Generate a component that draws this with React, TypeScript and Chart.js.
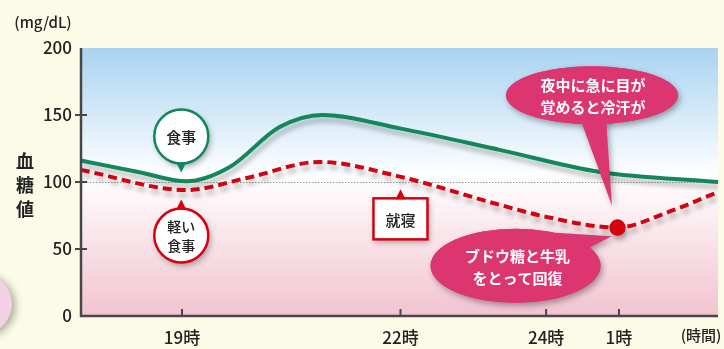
import React, { useEffect, useRef } from "react";
import { Chart, registerables } from "chart.js";

Chart.register(...registerables);

// ---- data ----
const xMin = 17.613;
const xMax = 26.36;
const xTickValues = [19, 22, 24, 25];
const xTickLabels = ["19時", "22時", "24時", "1時"];
const yTickValues = [0, 50, 100, 150, 200];

const normalHours = [17.61, 18.4, 19.06, 19.65, 20.34, 20.93, 21.99, 23.36, 24.74, 26.36];
const normalValues = [116, 107.5, 100.5, 111, 141, 150, 140, 124, 107.5, 100];

const lightHours = [17.61, 19.06, 19.89, 20.89, 21.99, 23.36, 24.0, 24.98, 25.65, 26.36];
const lightValues = [109, 94, 103, 115, 104, 83, 74, 66, 77, 92.5];
const markedHour = 24.98;

const FONT = '"Noto Sans CJK JP", "Noto Sans", sans-serif';
const GREEN = "#12885a";
const RED = "#d7000f";
const PINK = "#dc3671";

const overlay = {
  id: "overlay",
  beforeDraw(chart: any) {
    const { ctx, chartArea: a, scales } = chart;
    const y = scales.y;
    ctx.save();
    ctx.fillStyle = "#fcfbe8";
    ctx.fillRect(0, 0, chart.width, chart.height);
    // decorative circle
    ctx.save();
    ctx.shadowColor = "rgba(60,60,30,0.45)";
    ctx.shadowBlur = 8;
    ctx.shadowOffsetX = 3;
    ctx.shadowOffsetY = 2;
    ctx.fillStyle = "#f3d0e4";
    ctx.beginPath();
    ctx.arc(-18, 304, 30, 0, Math.PI * 2);
    ctx.fill();
    ctx.restore();
    // plot background gradient
    const g = ctx.createLinearGradient(0, y.getPixelForValue(200), 0, y.getPixelForValue(0));
    g.addColorStop(0, "#a9d3f1");
    g.addColorStop(0.47, "#fdfeff");
    g.addColorStop(0.52, "#fefafb");
    g.addColorStop(1, "#f2c3cf");
    ctx.fillStyle = g;
    ctx.fillRect(a.left, a.top, a.right - a.left, a.bottom - a.top);
    // dotted reference line at 100
    const y100 = y.getPixelForValue(100);
    ctx.strokeStyle = "#9a9a9a";
    ctx.lineWidth = 1;
    ctx.setLineDash([1.5, 1.5]);
    ctx.beginPath();
    ctx.moveTo(a.left, y100 + 0.5);
    ctx.lineTo(a.right, y100 + 0.5);
    ctx.stroke();
    ctx.restore();
  },
  beforeDatasetDraw(chart: any) {
    const ctx = chart.ctx;
    ctx.save();
    ctx.shadowColor = "rgba(0,0,0,0.28)";
    ctx.shadowBlur = 5;
    ctx.shadowOffsetX = 2;
    ctx.shadowOffsetY = 5;
  },
  afterDatasetDraw(chart: any) {
    chart.ctx.restore();
  },
  afterDraw(chart: any) {
    const { ctx, chartArea: a, scales } = chart;
    const x = scales.x;
    const y = scales.y;
    const px = (h: number) => x.getPixelForValue(h);
    const py = (v: number) => y.getPixelForValue(v);
    ctx.save();

    // axes
    ctx.strokeStyle = "#474747";
    ctx.lineWidth = 2.5;
    ctx.beginPath();
    ctx.moveTo(a.left, a.top);
    ctx.lineTo(a.left, a.bottom);
    ctx.lineTo(a.right, a.bottom);
    ctx.stroke();
    ctx.lineWidth = 2;
    for (const v of [50, 100, 150]) {
      ctx.beginPath();
      ctx.moveTo(a.left - 6, py(v));
      ctx.lineTo(a.left + 6, py(v));
      ctx.stroke();
    }
    for (const h of xTickValues) {
      ctx.beginPath();
      ctx.moveTo(px(h), a.bottom - 7);
      ctx.lineTo(px(h), a.bottom);
      ctx.stroke();
    }

    // axis titles
    ctx.fillStyle = "#222";
    ctx.textAlign = "center";
    ctx.textBaseline = "middle";
    ctx.font = `500 15px ${FONT}`;
    ctx.fillText("(mg/dL)", 43, 22);
    ctx.fillText("(時間)", 701, 335);
    ctx.font = `bold 18px ${FONT}`;
    ["血", "糖", "値"].forEach((c, i) => ctx.fillText(c, 25, 161 + i * 24));

    const shadowOn = () => {
      ctx.shadowColor = "rgba(0,0,0,0.35)";
      ctx.shadowBlur = 6;
      ctx.shadowOffsetX = 2;
      ctx.shadowOffsetY = 3;
    };

    // callout: 食事 (green circle, pointer down)
    {
      const cx = px(18.99), cy = py(134), r = 27;
      ctx.save();
      shadowOn();
      ctx.fillStyle = "#fff";
      ctx.beginPath();
      ctx.arc(cx, cy, r, 0, Math.PI * 2);
      ctx.fill();
      ctx.restore();
      ctx.strokeStyle = GREEN;
      ctx.lineWidth = 2.5;
      ctx.beginPath();
      ctx.arc(cx, cy, r, 0, Math.PI * 2);
      ctx.stroke();
      ctx.fillStyle = GREEN;
      ctx.beginPath();
      ctx.moveTo(cx - 5, cy + r - 1);
      ctx.lineTo(cx + 5, cy + r - 1);
      ctx.lineTo(cx, cy + r + 9);
      ctx.closePath();
      ctx.fill();
      ctx.fillStyle = "#222";
      ctx.font = `500 15px ${FONT}`;
      ctx.fillText("食事", cx, cy + 1);
    }
    // callout: 軽い食事 (red circle, pointer up)
    {
      const cx = px(18.99), cy = py(60), r = 27;
      ctx.save();
      shadowOn();
      ctx.fillStyle = "#fff";
      ctx.beginPath();
      ctx.arc(cx, cy, r, 0, Math.PI * 2);
      ctx.fill();
      ctx.restore();
      ctx.strokeStyle = RED;
      ctx.lineWidth = 2.5;
      ctx.beginPath();
      ctx.arc(cx, cy, r, 0, Math.PI * 2);
      ctx.stroke();
      ctx.fillStyle = RED;
      ctx.beginPath();
      ctx.moveTo(cx - 5, cy - r + 1);
      ctx.lineTo(cx + 5, cy - r + 1);
      ctx.lineTo(cx, cy - r - 9);
      ctx.closePath();
      ctx.fill();
      ctx.fillStyle = "#222";
      ctx.font = `500 14px ${FONT}`;
      ctx.fillText("軽い", cx, cy - 9);
      ctx.fillText("食事", cx, cy + 10);
    }
    // callout: 就寝 (rect, pointer up)
    {
      const cx = px(22), cy = py(72.5), w = 54, h = 41;
      ctx.save();
      shadowOn();
      ctx.fillStyle = "#fff";
      ctx.fillRect(cx - w / 2, cy - h / 2, w, h);
      ctx.restore();
      ctx.strokeStyle = RED;
      ctx.lineWidth = 2.5;
      ctx.strokeRect(cx - w / 2, cy - h / 2, w, h);
      ctx.fillStyle = RED;
      ctx.beginPath();
      ctx.moveTo(cx - 5, cy - h / 2 + 1);
      ctx.lineTo(cx + 5, cy - h / 2 + 1);
      ctx.lineTo(cx, cy - h / 2 - 9);
      ctx.closePath();
      ctx.fill();
      ctx.fillStyle = "#222";
      ctx.font = `500 15px ${FONT}`;
      ctx.fillText("就寝", cx, cy + 1);
    }
    // callout: 夜中に急に目が覚めると冷汗が (pink ellipse, tail down)
    {
      const cx = px(24.63), cy = py(164.7), rx = 86, ry = 29;
      const tipX = px(25.0) - 7, tipY = py(82.5);
      ctx.save();
      shadowOn();
      ctx.fillStyle = PINK;
      ctx.beginPath();
      ctx.ellipse(cx, cy, rx, ry, 0, 0, Math.PI * 2);
      ctx.fill();
      ctx.beginPath();
      ctx.moveTo(cx - 12, cy + ry - 6);
      ctx.lineTo(tipX, tipY);
      ctx.lineTo(cx + 14, cy + ry - 6);
      ctx.closePath();
      ctx.fill();
      ctx.restore();
      ctx.fillStyle = PINK;
      ctx.beginPath();
      ctx.ellipse(cx, cy, rx, ry, 0, 0, Math.PI * 2);
      ctx.fill();
      ctx.fillStyle = "#fff";
      ctx.font = `bold 15px ${FONT}`;
      ctx.fillText("夜中に急に目が", cx + 1, cy - 10);
      ctx.fillText("覚めると冷汗が", cx + 1, cy + 12);
    }
    // callout: ブドウ糖と牛乳をとって回復 (pink ellipse, tail up-right)
    {
      const cx = px(23.58), cy = py(37.5), rx = 85, ry = 37;
      const tipX = px(24.9), tipY = py(59.5);
      ctx.save();
      shadowOn();
      ctx.fillStyle = PINK;
      ctx.beginPath();
      ctx.ellipse(cx, cy, rx, ry, 0, 0, Math.PI * 2);
      ctx.fill();
      ctx.beginPath();
      ctx.moveTo(cx + 40, cy - ry + 4);
      ctx.lineTo(tipX, tipY);
      ctx.lineTo(cx + 66, cy - 14);
      ctx.closePath();
      ctx.fill();
      ctx.restore();
      ctx.fillStyle = PINK;
      ctx.beginPath();
      ctx.ellipse(cx, cy, rx, ry, 0, 0, Math.PI * 2);
      ctx.fill();
      ctx.fillStyle = "#fff";
      ctx.font = `bold 15px ${FONT}`;
      ctx.fillText("ブドウ糖と牛乳", cx + 2, cy - 9);
      ctx.fillText("をとって回復", cx + 2, cy + 13);
    }

    // marker point redrawn on top
    const meta = chart.getDatasetMeta(1);
    const idx = lightHours.indexOf(markedHour);
    const pt = meta.data[idx];
    if (pt) {
      ctx.fillStyle = RED;
      ctx.beginPath();
      ctx.arc(pt.x, pt.y, 8, 0, Math.PI * 2);
      ctx.fill();
    }
    ctx.restore();
  },
};

export default function App() {
  const ref = useRef<HTMLCanvasElement>(null);
  useEffect(() => {
    const chart = new Chart(ref.current as HTMLCanvasElement, {
      type: "line",
      data: {
        datasets: [
          {
            label: "食事",
            data: normalHours.map((h, i) => ({ x: h, y: normalValues[i] })),
            borderColor: GREEN,
            borderWidth: 4,
            pointRadius: 0,
            cubicInterpolationMode: "monotone",
            fill: false,
          },
          {
            label: "軽い食事",
            data: lightHours.map((h, i) => ({ x: h, y: lightValues[i] })),
            borderColor: RED,
            borderWidth: 4,
            borderDash: [9, 5],
            pointRadius: lightHours.map((h) => (h === markedHour ? 8 : 0)),
            pointBackgroundColor: RED,
            pointBorderWidth: 0,
            cubicInterpolationMode: "monotone",
            fill: false,
          },
        ],
      },
      options: {
        animation: false,
        responsive: false,
        events: [],
        layout: { padding: { left: 0, right: 6, top: 48, bottom: 0 } },
        plugins: { legend: { display: false }, tooltip: { enabled: false } },
        scales: {
          x: {
            type: "linear",
            min: xMin,
            max: xMax,
            afterBuildTicks: (s: any) => {
              s.ticks = xTickValues.map((v) => ({ value: v }));
            },
            afterFit: (s: any) => {
              s.height = 33;
            },
            grid: { display: false, drawTicks: false },
            border: { display: false },
            ticks: {
              autoSkip: false,
              maxRotation: 0,
              padding: 11,
              color: "#222",
              font: { family: FONT, size: 17, weight: "500" },
              callback: (v: any) => {
                const i = xTickValues.indexOf(Number(v));
                return i >= 0 ? xTickLabels[i] : "";
              },
            },
          },
          y: {
            min: 0,
            max: 200,
            afterBuildTicks: (s: any) => {
              s.ticks = yTickValues.map((v) => ({ value: v }));
            },
            afterFit: (s: any) => {
              s.width = 81;
            },
            grid: { display: false, drawTicks: false },
            border: { display: false },
            ticks: {
              padding: 9,
              color: "#222",
              font: { family: FONT, size: 17, weight: "500" },
            },
          },
        },
      },
      plugins: [overlay],
    } as any);
    return () => chart.destroy();
  }, []);
  return (
    <div style={{ position: "absolute", left: 0, top: 0, width: 724, height: 349, background: "#fcfbe8" }}>
      <canvas ref={ref} width={724} height={349} />
    </div>
  );
}
